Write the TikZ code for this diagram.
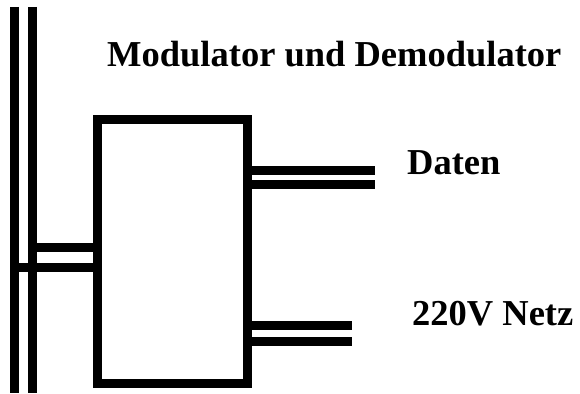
\documentclass[tikz,border=0pt]{standalone}
\usepackage{fontspec}
\setmainfont{Liberation Serif}
\begin{document}
\begin{tikzpicture}[x=1pt,y=-1pt,
  wire/.style={line width=9pt,line cap=butt},
  label/.style={anchor=base west,inner sep=0pt,font=\fontsize{36.5}{40}\selectfont\bfseries}]
\useasboundingbox (0,0) rectangle (580,393);
% bus lines
\coordinate (b1t) at (14.5,7);
\coordinate (b1b) at (14.5,393);
\coordinate (b2t) at (32.5,7);
\coordinate (b2b) at (32.5,393);
\draw[wire] (b1t) -- (b1b);
\draw[wire] (b2t) -- (b2b);
% box
\node[draw,line width=9pt,minimum width=150pt,minimum height=264pt,inner sep=0pt] (box) at (172.5,251) {};
% left connector
\coordinate (l1) at (37,247.5);
\coordinate (l2) at (19,267.5);
\draw[wire] (l1) -- (l1 -| box.west);
\draw[wire] (l2) -- (l2 -| box.west);
% right connectors
\coordinate (d1) at (375,170);
\coordinate (d2) at (375,184.5);
\coordinate (n1) at (352,325);
\coordinate (n2) at (352,341.5);
\draw[wire] (d1 -| box.east) -- (d1);
\draw[wire] (d2 -| box.east) -- (d2);
\draw[wire] (n1 -| box.east) -- (n1);
\draw[wire] (n2 -| box.east) -- (n2);
% labels
\node[label] (title) at (107,67) {Modulator und Demodulator};
\node[label] (daten) at (407,174) {Daten};
\node[label] (netz) at (412,325) {220V Netz};
\end{tikzpicture}
\end{document}
